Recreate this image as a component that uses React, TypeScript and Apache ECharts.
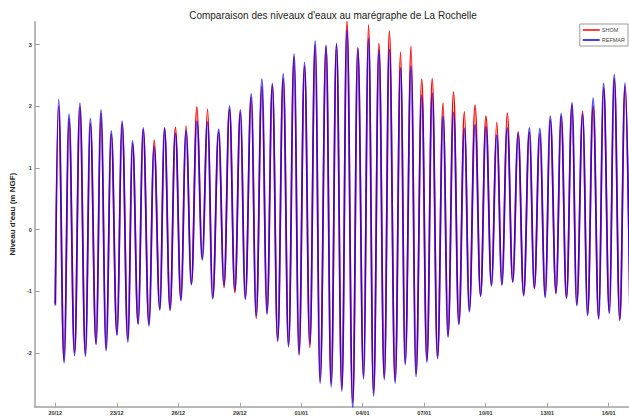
import React, { useEffect, useRef } from "react";
import * as echarts from "echarts";

// Days counted from 20/12 00:00
const xTickDays = [0, 3, 6, 9, 12, 15, 18, 21, 24, 27];
const xTickLabels = ["20/12", "23/12", "26/12", "29/12", "01/01", "04/01", "07/01", "10/01", "13/01", "16/01"];
const yTickValues = [-2, -1, 0, 1, 2, 3];

// Start of the records (day, value)
const startDay = 0;
const startShom = -1.2;
const startRefmar = -1.23;

// High waters
const highDays = [
  0.16, 0.67, 1.2, 1.71, 2.23, 2.73, 3.26, 3.77, 4.29, 4.82,
  5.33, 5.86, 6.38, 6.91, 7.43, 7.97, 8.5, 9.03, 9.56, 10.08,
  10.59, 11.12, 11.65, 12.16, 12.68, 13.21, 13.72, 14.23, 14.76, 15.28,
  15.79, 16.3, 16.85, 17.36, 17.88, 18.39, 18.92, 19.43, 19.96, 20.48,
  21.01, 21.54, 22.05, 22.58, 23.13, 23.64, 24.15, 24.68, 25.21, 25.73,
  26.24, 26.75, 27.27, 27.8,
];
const highRefmar = [
  2.11, 1.87, 2.05, 1.8, 1.94, 1.6, 1.76, 1.44, 1.65, 1.35,
  1.65, 1.56, 1.61, 1.76, 1.74, 1.63, 2.0, 1.94, 2.2, 2.44,
  2.37, 2.53, 2.85, 2.71, 3.06, 2.99, 3.02, 3.24, 2.95, 3.1,
  2.91, 2.92, 2.62, 2.65, 2.18, 2.21, 1.84, 1.9, 1.64, 1.7,
  1.67, 1.53, 1.65, 1.56, 1.65, 1.64, 1.84, 1.88, 2.06, 1.87,
  2.13, 2.37, 2.51, 2.38,
];
const highShom = [
  2.0, 1.8, 1.98, 1.72, 1.88, 1.55, 1.72, 1.4, 1.62, 1.45,
  1.64, 1.66, 1.68, 1.99, 1.95, 1.58, 1.95, 1.9, 2.15, 2.32,
  2.34, 2.45, 2.8, 2.65, 3.0, 2.97, 3.0, 3.38, 2.94, 3.32,
  3.02, 3.22, 2.88, 2.97, 2.44, 2.45, 2.05, 2.23, 1.91, 2.02,
  1.84, 1.74, 1.89, 1.59, 1.58, 1.55, 1.78, 1.84, 2.02, 1.92,
  2.0, 2.3, 2.45, 2.33,
];

// Low waters
const lowDays = [
  0.43, 0.94, 1.47, 1.99, 2.48, 3.01, 3.54, 4.04, 4.57, 5.1,
  5.6, 6.13, 6.64, 7.17, 7.68, 8.23, 8.76, 9.27, 9.8, 10.33,
  10.85, 11.38, 11.89, 12.42, 12.92, 13.46, 13.98, 14.51, 15.04, 15.53,
  16.05, 16.58, 17.07, 17.6, 18.13, 18.65, 19.16, 19.69, 20.2, 20.75,
  21.28, 21.79, 22.32, 22.85, 23.37, 23.9, 24.43, 24.94, 25.44, 25.97,
  26.51, 27.03, 27.54, 28.05,
];
const lowRefmar = [
  -2.16, -2.04, -2.05, -1.86, -1.96, -1.71, -1.82, -1.53, -1.56, -1.3,
  -1.31, -1.15, -0.89, -0.49, -1.12, -0.9, -0.98, -1.13, -1.4, -1.37,
  -1.81, -1.9, -2.02, -1.85, -2.49, -2.55, -2.62, -2.9, -2.42, -2.7,
  -2.43, -2.49, -2.19, -2.38, -2.15, -2.09, -1.74, -1.54, -1.33, -1.08,
  -0.91, -0.9, -0.85, -1.07, -0.94, -1.1, -1.02, -1.11, -1.23, -1.39,
  -1.45, -1.36, -1.47, -1.7,
];
const lowShom = [
  -2.12, -2.0, -2.02, -1.85, -1.93, -1.7, -1.78, -1.52, -1.53, -1.29,
  -1.28, -1.13, -0.88, -0.47, -1.1, -0.94, -1.02, -1.11, -1.44, -1.35,
  -1.79, -1.87, -2.03, -1.91, -2.45, -2.5, -2.58, -2.8, -2.38, -2.65,
  -2.4, -2.45, -2.16, -2.34, -2.12, -2.06, -1.72, -1.52, -1.31, -1.07,
  -0.9, -0.88, -0.84, -1.05, -0.96, -1.08, -1.04, -1.1, -1.21, -1.37,
  -1.43, -1.34, -1.45, -1.68,
];

function buildSeries(start: number, highs: number[], lows: number[]): number[][] {
  const pts: number[][] = [[startDay, start]];
  highDays.forEach((d, i) => pts.push([d, highs[i]]));
  lowDays.forEach((d, i) => pts.push([d, lows[i]]));
  pts.sort((a, b) => a[0] - b[0]);
  return pts;
}

export default function App() {
  const ref = useRef<HTMLDivElement>(null);
  useEffect(() => {
    if (!ref.current) return;
    const chart = echarts.init(ref.current, null, { renderer: "svg" });
    const axisColor = "#a0a0a0";
    const font = "Liberation Sans, Arial, sans-serif";
    const labelStyle = {
      fontSize: 5.5,
      fontWeight: "bold" as const,
      color: "#333",
      fontFamily: font,
    };
    chart.setOption({
      animation: false,
      backgroundColor: "#ffffff",
      title: {
        text: "Comparaison des niveaux d'eaux au marégraphe de La Rochelle",
        left: 328,
        textAlign: "center",
        top: 5,
        textStyle: { fontSize: 10, fontWeight: "normal", color: "#222", fontFamily: font },
      },
      legend: {
        orient: "vertical",
        right: 1,
        top: 24,
        icon: "rect",
        itemWidth: 17,
        itemHeight: 1.5,
        itemGap: 4,
        padding: [3, 3, 3, 3],
        borderColor: "#9a9a9a",
        borderWidth: 1,
        backgroundColor: "#fff",
        data: ["SHOM", "REFMAR"],
        textStyle: { fontSize: 5.5, color: "#444", fontFamily: font, padding: [0, 0, 0, -3] },
      },
      grid: { left: 27, right: 0, top: 21.7, bottom: 9.3, containLabel: false },
      xAxis: {
        type: "value",
        min: -1,
        max: 27.99,
        splitLine: { show: false },
        axisLine: { show: true, onZero: false, lineStyle: { color: axisColor, width: 1.5 } },
        axisTick: { show: true, inside: true, length: 4, customValues: xTickDays, lineStyle: { color: axisColor } },
        axisLabel: {
          ...labelStyle,
          margin: 3,
          customValues: xTickDays,
          formatter: (v: number) => {
            const i = xTickDays.indexOf(Math.round(v));
            return i >= 0 ? xTickLabels[i] : "";
          },
        },
      },
      yAxis: {
        type: "value",
        min: -2.87,
        max: 3.37,
        splitLine: { show: false },
        axisLine: { show: true, onZero: false, lineStyle: { color: axisColor, width: 1.5 } },
        axisTick: { show: true, inside: true, length: 5, customValues: yTickValues, lineStyle: { color: axisColor } },
        axisLabel: {
          ...labelStyle,
          margin: 3,
          customValues: yTickValues,
          formatter: (v: number) => String(Math.round(v)),
        },
        name: "Niveau d'eau (m NGF)",
        nameLocation: "middle",
        nameGap: 10,
        nameTextStyle: { fontSize: 8, fontWeight: "bold", color: "#222", fontFamily: font },
      },
      series: [
        {
          name: "SHOM",
          type: "line",
          data: buildSeries(startShom, highShom, lowShom),
          symbol: "none",
          smooth: 0.4,
          smoothMonotone: "x",
          lineStyle: { color: "#ff0000", width: 1.6 },
          itemStyle: { color: "#ff0000" },
        },
        {
          name: "REFMAR",
          type: "line",
          data: buildSeries(startRefmar, highRefmar, lowRefmar),
          symbol: "none",
          smooth: 0.4,
          smoothMonotone: "x",
          lineStyle: { color: "#0000ff", width: 1.8, opacity: 0.72 },
          itemStyle: { color: "#0000ff" },
        },
      ],
    });
    return () => chart.dispose();
  }, []);
  return (
    <div ref={ref} style={{ position: "absolute", left: 0, top: 0, width: 629, height: 416 }} />
  );
}
